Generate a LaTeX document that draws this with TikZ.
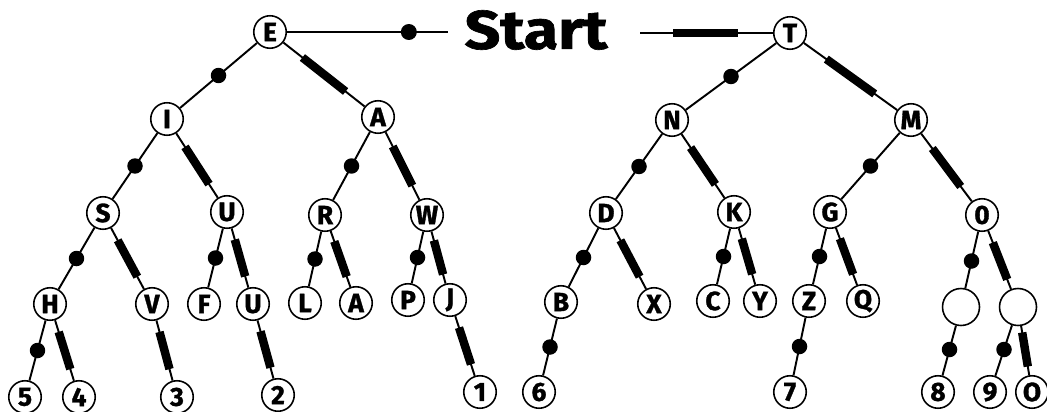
\documentclass[tikz,border=0pt]{standalone}
\usepackage{fontspec}
\setmainfont{Fira Sans}[BoldFeatures={FakeBold=1.2}]
\usetikzlibrary{positioning,calc}
\tikzset{
	key/.style={circle,draw=black,fill=white,line width=0.9pt,minimum size=0.65cm,inner sep=0pt,
		font=\bfseries\fontsize{15}{15}\selectfont},
	blank/.style={key,minimum size=0.74cm},
	wire/.style={draw=black,line width=1.1pt},
	dah/.style={draw=black,line width=4.8pt},
}

\begin{document}
\begin{tikzpicture}[x=0.02cm,y=-0.02cm]
	\useasboundingbox (0,0) rectangle (1047,412);
	% first row
	\node[key] (e) at (270,32) {E};
	\node[key] (t) at (790,33) {T};
	\node[font=\bfseries\fontsize{31}{31}\selectfont] (start) at (536,30) {\scalebox{1.15}[1]{Start}};
	\coordinate (sl) at (448,32);
	\coordinate (sr) at (640,33);
	% second row
	\node[key] (i) at (167,119) {I};
	\node[key] (a) at (378,117) {A};
	\node[key] (n) at (672,120) {N};
	\node[key] (m) at (911,120) {M};
	% third row
	\node[key] (s) at (103,213) {S};
	\node[key] (u) at (227,212) {U};
	\node[key] (r) at (325,215) {R};
	\node[key] (w) at (427,215) {W};
	\node[key] (d) at (606,213) {D};
	\node[key] (k) at (734,212) {K};
	\node[key] (g) at (830,212) {G};
	\node[key] (o) at (982,215) {0};
	% fourth row
	\node[key] (h) at (50,304) {H};
	\node[key] (v) at (152,304) {V};
	\node[key] (f) at (204,304) {F};
	\node[key] (uu) at (253,304) {U};
	\node[key] (l) at (305,303) {L};
	\node[key] (aa) at (356,303) {A};
	\node[key] (p) at (408,300) {P};
	\node[key] (j) at (450,300) {J};
	\node[key] (b) at (561,302) {B};
	\node[key] (x) at (654,304) {X};
	\node[key] (c) at (713,301) {C};
	\node[key] (y) at (760,301) {Y};
	\node[key] (z) at (809,301) {Z};
	\node[key] (q) at (863,301) {Q};
	\node[blank] (oe) at (961,307) {};
	\node[blank] (ch) at (1018,307) {};
	% digits
	\node[key] (n5) at (25,397) {5};
	\node[key] (n4) at (79,397) {4};
	\node[key] (n3) at (177,397) {3};
	\node[key] (n2) at (278,395) {2};
	\node[key] (n1) at (480,392) {1};
	\node[key] (n6) at (539,392) {6};
	\node[key] (n7) at (790,392) {7};
	\node[key] (n8) at (938,392) {8};
	\node[key] (n9) at (990,392) {9};
	\node[key] (n0) at (1032,392) {O};
	% start lines
	\draw[wire,line width=0.8pt] (e) -- (sl);
	\fill ($(e.center)!0.78!(sl)$) circle[radius=0.16cm];
	\draw[wire,line width=0.8pt] (sr) -- (t);
	\draw[dah] ($(sr)!0.22!(t.center)$) -- ($(sr)!0.65!(t.center)$);
	% dots
	\foreach \p/\c in {e/i,i/s,s/h,h/n5,u/f,a/r,r/l,w/p,t/n,n/d,d/b,b/n6,k/c,m/g,g/z,z/n7,o/oe,oe/n8,ch/n9}{
		\draw[wire] (\p) -- (\c);
		\fill ($(\p)!0.5!(\c)$) circle[radius=0.155cm];
	}
	% dashes
	\foreach \p/\c in {e/a,i/u,s/v,h/n4,v/n3,u/uu,uu/n2,a/w,r/aa,w/j,j/n1,t/m,n/k,d/x,k/y,g/q,m/o,o/ch,ch/n0}{
		\draw[wire] (\p) -- (\c);
		\draw[dah] ($(\p)!0.3!(\c)$) -- ($(\p)!0.7!(\c)$);
	}
\end{tikzpicture}
\end{document}
